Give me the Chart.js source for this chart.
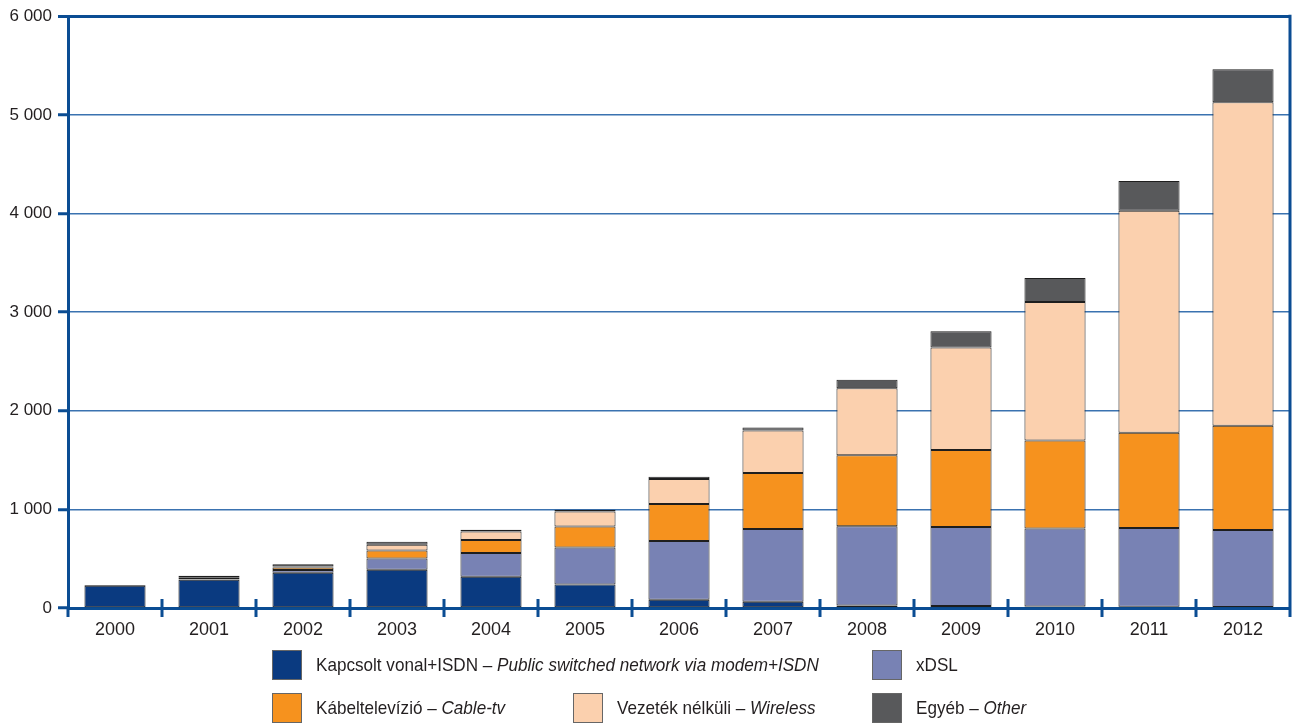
<!DOCTYPE html>
<html>
<head>
<meta charset="utf-8">
<script src="https://cdn.jsdelivr.net/npm/chart.js@4/dist/chart.umd.min.js"></script>
<style>
  html, body { margin: 0; padding: 0; background: #fff; }
  #wrap { position: relative; width: 1293px; height: 724px; }
  #c { position: absolute; left: 0; top: 0; }
  .lg { position: absolute; display: flex; align-items: center; font-family: 'Liberation Sans', Arial, sans-serif; font-size: 19px; color: #231f20; white-space: nowrap; }
  .lg .bx { width: 30px; height: 30px; box-sizing: border-box; border: 1px solid #666; margin-right: 14px; flex: none; }
  .lg .tx { display: inline-block; transform: scaleX(0.9); transform-origin: left center; }
</style>
</head>
<body>
<div id="wrap">
  <canvas id="c" width="1293" height="724"></canvas>
</div>
<script>
// ---- data ----
const years = ['2000','2001','2002','2003','2004','2005','2006','2007','2008','2009','2010','2011','2012'];
const pstn     = [225, 287, 358, 388, 317, 239,  84,  64,  26,  20,  15,  12,  10];
const xdsl     = [  0,   3,  27, 114, 240, 375, 595, 737, 804, 800, 792, 799, 780];
const cable    = [  0,  15,  25,  81, 132, 213, 375, 567, 719, 781, 891, 965, 1057];
const wireless = [  0,   2,  12,  58,  87, 152, 253, 432, 680, 1039, 1405, 2252, 3280];
const other    = [  8,  20,  22,  30,  17,  17,  23,  30,  84, 166, 243, 301, 334];
const yTickLabels = ['0', '1 000', '2 000', '3 000', '4 000', '5 000', '6 000'];
const seriesNames = [
  ['Kapcsolt vonal+ISDN – ', 'Public switched network via modem+ISDN'],
  ['xDSL', ''],
  ['Kábeltelevízió – ', 'Cable-tv'],
  ['Vezeték nélküli – ', 'Wireless'],
  ['Egyéb – ', 'Other']
];
const seriesColors = ['#0a3a80', '#7882b4', '#f6921e', '#fbd0ae', '#58595b'];

const AXIS = '#0b4d93';
const GRID = '#3a72b0';
const FONT = "'Liberation Sans', Arial, sans-serif";

const seriesData = [pstn, xdsl, cable, wireless, other];
const datasets = seriesData.map((d, i) => ({
  label: seriesNames[i][0] + seriesNames[i][1],
  data: d,
  backgroundColor: seriesColors[i],
  borderColor: '#1e1e1e',
  borderWidth: 1,
  borderSkipped: false,
  categoryPercentage: 1,
  barPercentage: 0.65
}));

const axisTicks = {
  id: 'axisTicks',
  afterDraw(chart) {
    const ctx = chart.ctx;
    const xs = chart.scales.x;
    const a = chart.chartArea;
    ctx.save();
    ctx.strokeStyle = AXIS;
    ctx.lineWidth = 3;
    ctx.beginPath();
    for (let i = 1; i < years.length; i++) {
      const x = (xs.getPixelForValue(i - 1) + xs.getPixelForValue(i)) / 2;
      ctx.moveTo(x, a.bottom - 9);
      ctx.lineTo(x, a.bottom + 9);
    }
    ctx.moveTo(a.right, a.top - 1.5);
    ctx.lineTo(a.right, a.bottom + 9);
    ctx.moveTo(a.left, a.bottom);
    ctx.lineTo(a.left, a.bottom + 9);
    ctx.stroke();
    ctx.restore();
  }
};

Chart.defaults.font.family = FONT;
new Chart(document.getElementById('c'), {
  type: 'bar',
  data: { labels: years, datasets },
  options: {
    responsive: false,
    devicePixelRatio: 1,
    animation: false,
    layout: { padding: { left: 0, top: 16, right: 3, bottom: 76 } },
    plugins: { legend: { display: false }, tooltip: { enabled: false } },
    scales: {
      x: {
        stacked: true,
        afterFit(s) { s.height = 40; },
        grid: { display: false },
        border: { display: true, color: AXIS, width: 3 },
        ticks: { color: '#231f20', font: { size: 18, family: FONT }, padding: 3 }
      },
      y: {
        stacked: true,
        min: 0, max: 6000,
        afterFit(s) { s.width = 68; },
        border: { display: true, color: AXIS, width: 3 },
        grid: {
          color: ctx => ctx.tick && ctx.tick.value === 6000 ? AXIS : GRID,
          lineWidth: ctx => ctx.tick && ctx.tick.value === 6000 ? 3 : 1.5,
          drawTicks: true,
          tickLength: 10,
          tickWidth: 3,
          tickColor: AXIS
        },
        ticks: {
          stepSize: 1000,
          color: '#231f20',
          font: { size: 17, family: FONT },
          padding: 6,
          callback: (v, i) => yTickLabels[i]
        }
      }
    }
  },
  plugins: [axisTicks]
});

// ---- HTML legend built from the series arrays ----
const legendPos = [[272, 650], [872, 650], [272, 693], [573, 693], [872, 693]];
const wrap = document.getElementById('wrap');
seriesNames.forEach((n, i) => {
  const d = document.createElement('div');
  d.className = 'lg';
  d.style.left = legendPos[i][0] + 'px';
  d.style.top = legendPos[i][1] + 'px';
  const b = document.createElement('span');
  b.className = 'bx';
  b.style.background = seriesColors[i];
  d.appendChild(b);
  const t = document.createElement('span');
  t.className = 'tx';
  t.appendChild(document.createTextNode(n[0]));
  if (n[1]) {
    const it = document.createElement('i');
    it.textContent = n[1];
    t.appendChild(it);
  }
  d.appendChild(t);
  wrap.appendChild(d);
});
</script>
</body>
</html>
